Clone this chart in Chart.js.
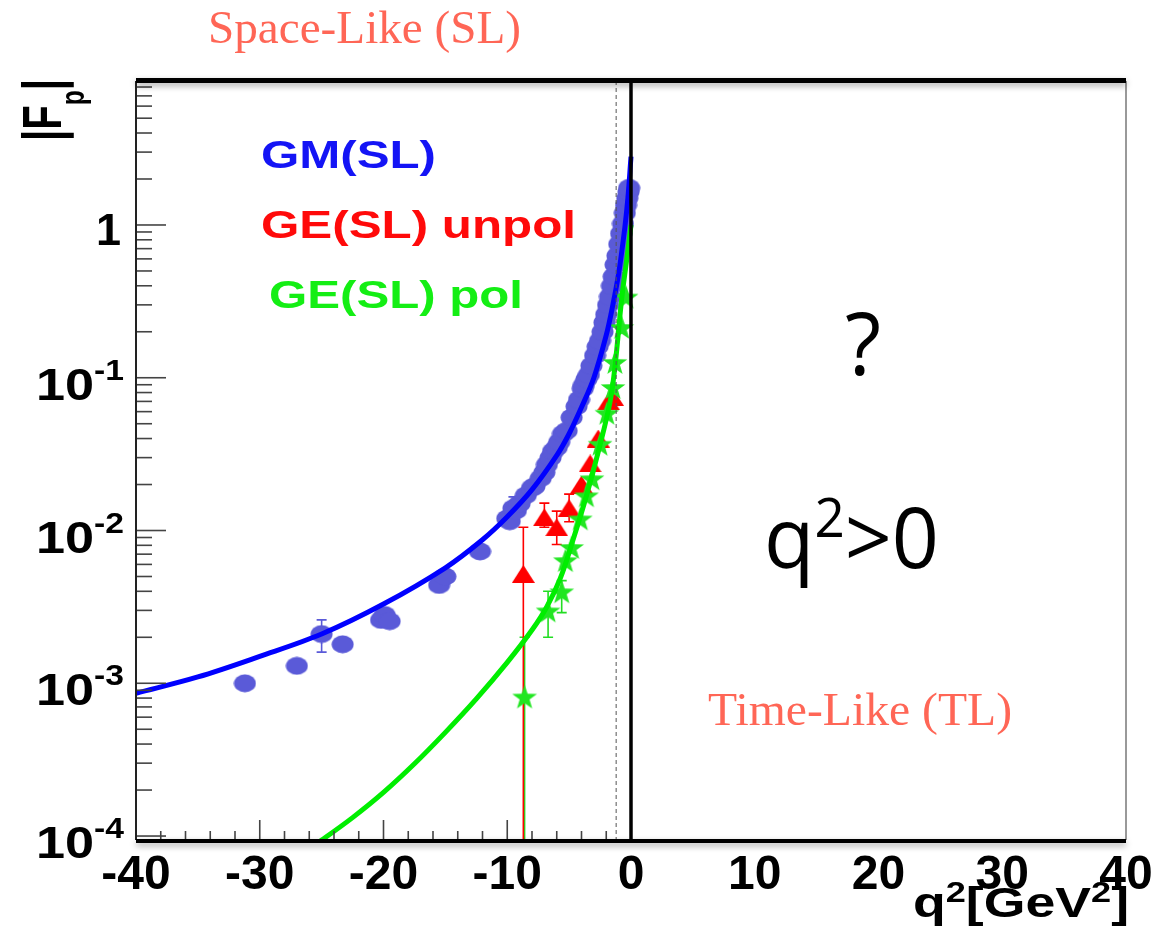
<!DOCTYPE html>
<html>
<head>
<meta charset="utf-8">
<title>|Fp| vs q2</title>
<script src="https://cdn.jsdelivr.net/npm/chart.js@4.4.1/dist/chart.umd.min.js"></script>
<style>
  html, body { margin: 0; padding: 0; background: #fff; }
  #wrap { width: 1159px; height: 933px; }
</style>
</head>
<body>
<div id="wrap"><canvas id="ffChart" width="1159" height="933"></canvas></div>
<script>
// --- values ---
// GM(SL) data (blue dots)
const gmX = [-31.2, -27.0, -25.0, -23.3, -20.2, -19.9, -19.5, -15.5, -15.0, -12.2,
             -10.0, -9.8, -9.5, -9.3, -9.0, -8.5, -8.0, -7.8, -7.3, -7.0, -6.8, -6.5, -6.3, -6.0, -5.8, -5.5, -5.2, -4.8, -4.4, -4.2, -3.9,
             -3.8, -3.6, -3.4, -3.2, -2.9, -2.7, -2.5, -2.3, -2.15, -2.0, -1.85, -1.7, -1.55, -1.4, -1.25, -1.1, -0.95, -0.8, -0.65, -0.5, -0.4, -0.3, -0.2, -0.15];
const gmY = [1.0e-3, 1.3e-3, 2.1e-3, 1.8e-3, 2.6e-3, 2.8e-3, 2.55e-3, 4.4e-3, 5.0e-3, 7.3e-3,
             1.2e-2, 1.15e-2, 1.4e-2, 1.35e-2, 1.5e-2, 1.7e-2, 1.9e-2, 1.95e-2, 2.2e-2, 2.4e-2, 2.7e-2, 3.0e-2, 3.3e-2, 3.5e-2, 3.8e-2, 4.3e-2, 4.5e-2, 5.5e-2, 6.5e-2, 7.2e-2, 8.5e-2,
             9.0e-2, 9.8e-2, 0.105, 0.12, 0.14, 0.16, 0.175, 0.2, 0.23, 0.26, 0.3, 0.34, 0.4, 0.46, 0.55, 0.63, 0.75, 0.88, 1.02, 1.2, 1.35, 1.5, 1.65, 1.75];
const gmErrLo = { 2: 1.6e-3, 12: 1.15e-2 };
const gmErrHi = { 2: 2.6e-3, 12: 1.66e-2 };

// GE(SL) unpol (red triangles)
const unpolX = [-8.7, -7.0, -6.0, -5.0, -4.0, -3.3, -2.65, -1.8, -1.5];
const unpolY = [5.2e-3, 1.22e-2, 1.05e-2, 1.4e-2, 2.0e-2, 2.75e-2, 4.0e-2, 7.0e-2, 7.5e-2];
const unpolErrLo = [1e-6, 1.05e-2, 8.1e-3, 1.14e-2, null, null, null, null, null];
const unpolErrHi = [1.05e-2, 1.51e-2, 1.34e-2, 1.73e-2, null, null, null, null, null];

// GE(SL) pol (green stars)
const polX = [-8.6, -6.7, -5.6, -5.3, -4.8, -4.1, -3.6, -3.15, -2.5, -1.95, -1.45, -1.3, -0.75, -0.4];
const polY = [8.2e-4, 3.0e-3, 4.0e-3, 6.4e-3, 7.8e-3, 1.2e-2, 1.7e-2, 2.2e-2, 3.7e-2, 5.9e-2, 8.7e-2, 0.127, 0.215, 0.34];
const polErrLo = [1e-6, 2.0e-3, 2.9e-3, null, null, null, null, null, null, null, null, null, null, null];
const polErrHi = [2.0e-3, 4.0e-3, 4.7e-3, null, null, null, null, null, null, null, null, null, null, null];

// fitted curves
const gmFitX = [-40, -35, -30, -25, -20, -15, -12, -10, -8, -6, -5, -4, -3, -2, -1.5, -1, -0.5, -0.25, 0];
const gmFitY = [8.6e-4, 1.1e-3, 1.5e-3, 2.1e-3, 3.3e-3, 5.7e-3, 8.7e-3, 1.23e-2, 1.85e-2, 3.1e-2, 4.3e-2, 6.4e-2, 0.10, 0.19, 0.29, 0.48, 0.96, 1.5, 2.8];
const polFitX = [-26, -25, -22.5, -20, -17.5, -15, -12.5, -10, -8, -6.8, -5.7, -4.7, -3.6, -2.5, -1.7, -1.3, -0.75, -0.35, 0];
const polFitY = [8.3e-5, 9.4e-5, 1.32e-4, 1.93e-4, 2.97e-4, 4.77e-4, 7.9e-4, 1.37e-3, 2.23e-3, 3.17e-3, 4.9e-3, 8.6e-3, 1.69e-2, 3.64e-2, 6.9e-2, 0.117, 0.33, 0.59, 1.0];

// axis ticks
const xTickVals = [-40, -30, -20, -10, 0, 10, 20, 30, 40];
const xTickLabels = ['-40', '-30', '-20', '-10', '0', '10', '20', '30', '40'];
const yTickVals = [1e-4, 1e-3, 1e-2, 1e-1, 1];
const yTickExp = ['-4', '-3', '-2', '-1', ''];

const pts = (xs, ys) => xs.map((x, i) => ({ x: x, y: ys[i] }));

// --- marker images ---
function makeMarker(w, h, draw) {
    const c = document.createElement('canvas');
    c.width = w; c.height = h;
    draw(c.getContext('2d'), w, h);
    return c;
}
const dotImg = makeMarker(23, 19, (g, w, h) => {
    g.fillStyle = '#5a5ad8';
    g.beginPath(); g.ellipse(w / 2, h / 2, w / 2 - 0.5, h / 2 - 0.5, 0, 0, Math.PI * 2); g.fill();
});
const triImg = makeMarker(23, 18, (g, w, h) => {
    g.fillStyle = '#ff0000';
    g.beginPath(); g.moveTo(w / 2, 0); g.lineTo(w, h); g.lineTo(0, h); g.closePath(); g.fill();
});
const starImg = makeMarker(28, 26, (g, w, h) => {
    g.fillStyle = '#22e622';
    g.beginPath();
    for (let i = 0; i < 10; i++) {
        const r = i % 2 === 0 ? 13 : 5.2;
        const a = -Math.PI / 2 + i * Math.PI / 5;
        const px = w / 2 + r * Math.cos(a), py = h / 2 + 1.5 + r * Math.sin(a);
        i === 0 ? g.moveTo(px, py) : g.lineTo(px, py);
    }
    g.closePath(); g.fill();
});

// --- text helper: segments drawn in a row, squeezed/stretched to a width ---
function drawRow(ctx, segs, x, y, width, color) {
    let total = 0;
    segs.forEach(s => { ctx.font = s.font; total += ctx.measureText(s.t).width; });
    const k = width ? width / total : 1;
    ctx.save();
    ctx.translate(x, y);
    ctx.scale(k, 1);
    ctx.fillStyle = color;
    ctx.textBaseline = 'alphabetic';
    ctx.textAlign = 'left';
    let cx = 0;
    segs.forEach(s => {
        ctx.font = s.font;
        ctx.fillText(s.t, cx, s.dy || 0);
        cx += ctx.measureText(s.t).width;
    });
    ctx.restore();
}

// --- error bars, drawn under the markers ---
const errorBars = {
    id: 'errorBars',
    beforeDatasetsDraw(chart) {
        const { ctx, chartArea: a, scales: { x, y } } = chart;
        ctx.save();
        ctx.beginPath();
        ctx.rect(a.left, a.top, a.right - a.left, a.bottom - a.top);
        ctx.clip();
        chart.data.datasets.forEach(ds => {
            if (!ds.errLo) return;
            ctx.strokeStyle = ds.errColor;
            ctx.lineWidth = 1.6;
            ds.data.forEach((p, i) => {
                const lo = ds.errLo[i], hi = ds.errHi[i];
                if (lo == null) return;
                const px = x.getPixelForValue(p.x);
                const y1 = y.getPixelForValue(lo), y2 = y.getPixelForValue(hi);
                ctx.beginPath();
                ctx.moveTo(px, y1); ctx.lineTo(px, y2);
                ctx.moveTo(px - 5, y2); ctx.lineTo(px + 5, y2);
                ctx.moveTo(px - 5, y1); ctx.lineTo(px + 5, y1);
                ctx.stroke();
            });
        });
        ctx.restore();
    }
};

// --- frame, ticks, labels and annotations ---
const decor = {
    id: 'decor',
    afterDatasetsDraw(chart) {
        const { ctx, chartArea: a, scales: { x, y } } = chart;
        ctx.save();

        // dashed line near q2 = -1.2 and the thick line at q2 = 0
        const xd = x.getPixelForValue(-1.2);
        ctx.strokeStyle = '#555';
        ctx.lineWidth = 1;
        ctx.setLineDash([4, 3]);
        ctx.beginPath(); ctx.moveTo(xd, a.top); ctx.lineTo(xd, a.bottom); ctx.stroke();
        ctx.setLineDash([]);
        const x0 = x.getPixelForValue(0);
        ctx.strokeStyle = '#000';
        ctx.lineWidth = 3.5;
        ctx.beginPath(); ctx.moveTo(x0, a.top); ctx.lineTo(x0, a.bottom); ctx.stroke();

        // y ticks (major + minor), drawn inward from the left axis
        ctx.strokeStyle = '#444';
        ctx.lineWidth = 1.6;
        for (let e = -4; e <= 0; e++) {
            for (let m = 1; m <= 9; m++) {
                const v = m * Math.pow(10, e);
                if (v > y.max) continue;
                const py = y.getPixelForValue(v);
                ctx.beginPath(); ctx.moveTo(a.left, py); ctx.lineTo(a.left + (m === 1 ? 30 : 16), py); ctx.stroke();
            }
        }
        // x ticks only on the space-like side
        for (let v = -38; v <= -2; v += 2) {
            const px = x.getPixelForValue(v);
            const len = v % 10 === 0 ? 20 : 9;
            ctx.beginPath(); ctx.moveTo(px, a.bottom); ctx.lineTo(px, a.bottom - len); ctx.stroke();
        }

        // frame
        ctx.strokeStyle = '#777';
        ctx.lineWidth = 1.5;
        ctx.beginPath(); ctx.moveTo(a.right, a.top); ctx.lineTo(a.right, a.bottom); ctx.stroke();
        ctx.strokeStyle = '#222';
        ctx.lineWidth = 2;
        ctx.beginPath(); ctx.moveTo(a.left, a.top); ctx.lineTo(a.left, a.bottom); ctx.stroke();
        ctx.shadowColor = 'rgba(0,0,0,0.35)';
        ctx.shadowBlur = 6;
        ctx.shadowOffsetY = 3;
        ctx.strokeStyle = '#000';
        ctx.lineWidth = 5;
        ctx.beginPath(); ctx.moveTo(a.left, a.top - 0.5); ctx.lineTo(a.right, a.top - 0.5); ctx.stroke();
        ctx.lineWidth = 4;
        ctx.beginPath(); ctx.moveTo(a.left, a.bottom + 1); ctx.lineTo(a.right, a.bottom + 1); ctx.stroke();
        ctx.restore();

        // y tick labels
        const big = 'bold 45px "Liberation Sans"', sup = 'bold 29px "Liberation Sans"';
        yTickVals.forEach((v, i) => {
            const py = y.getPixelForValue(v);
            if (yTickExp[i] === '') {
                ctx.font = big; ctx.fillStyle = '#000'; ctx.textAlign = 'right';
                ctx.fillText('1', 121, py + 20);
            } else {
                drawRow(ctx, [{ t: '10', font: big }, { t: yTickExp[i], font: sup, dy: -20 }], 36, py + 22, 88, '#000');
            }
        });

        // x tick labels
        ctx.font = 'bold 48px "Liberation Sans"';
        ctx.fillStyle = '#000';
        ctx.textAlign = 'center';
        xTickVals.forEach((v, i) => ctx.fillText(xTickLabels[i], x.getPixelForValue(v), 889));

        // axis titles
        const tf = 'bold 43px "Liberation Sans"', ts = 'bold 29px "Liberation Sans"';
        drawRow(ctx, [{ t: 'q', font: tf }, { t: '2', font: ts, dy: -15 }, { t: '[GeV', font: tf }, { t: '2', font: ts, dy: -15 }, { t: ']', font: tf }], 913, 917, 216, '#000');
        ctx.save();
        ctx.translate(61, 141);
        ctx.rotate(-Math.PI / 2);
        drawRow(ctx, [{ t: '|F', font: 'bold 55px "Liberation Sans"' }, { t: 'p', font: 'bold 34px "Liberation Sans"', dy: 23 }, { t: '|', font: 'bold 55px "Liberation Sans"' }], 0, 0, 62, '#000');
        ctx.restore();

        // legend
        const lf = 'bold 39px "Liberation Sans"';
        drawRow(ctx, [{ t: 'GM(SL)', font: lf }], 261, 168, 175, '#1414f5');
        drawRow(ctx, [{ t: 'GE(SL) unpol', font: lf }], 261, 238, 315, '#ff0a0a');
        drawRow(ctx, [{ t: 'GE(SL) pol', font: lf }], 269, 308, 254, '#14ee14');

        // region annotations
        const serif = '47px "Liberation Serif"';
        drawRow(ctx, [{ t: 'Space-Like (SL)', font: serif }], 208, 43, 313, '#ff6656');
        drawRow(ctx, [{ t: 'Time-Like (TL)', font: serif }], 708, 725, 304, '#ff6656');
        drawRow(ctx, [{ t: '?', font: '86px "Open Sans"' }], 845, 375, 36, '#000');
        drawRow(ctx, [{ t: 'q', font: '84px "Open Sans"' }, { t: '2', font: '54px "Open Sans"', dy: -31 }, { t: '>0', font: '84px "Open Sans"' }], 764, 568, 175, '#000');
    }
};

const ctx = document.getElementById('ffChart');
new Chart(ctx, {
    type: 'scatter',
    data: {
        datasets: [
            {
                label: 'GE(SL) pol fit',
                data: pts(polFitX, polFitY),
                showLine: true,
                borderColor: '#00ee00',
                borderWidth: 5,
                pointRadius: 0,
                tension: 0.35,
                order: 1
            },
            {
                label: 'GM(SL) fit',
                data: pts(gmFitX, gmFitY),
                showLine: true,
                borderColor: '#0000ff',
                borderWidth: 5,
                pointRadius: 0,
                tension: 0.35,
                order: 2
            },
            {
                label: 'GE(SL) pol',
                data: pts(polX, polY),
                pointStyle: starImg,
                pointRadius: 12,
                errLo: polErrLo, errHi: polErrHi, errColor: '#22dd22',
                order: 3
            },
            {
                label: 'GE(SL) unpol',
                data: pts(unpolX, unpolY),
                pointStyle: triImg,
                pointRadius: 11,
                errLo: unpolErrLo, errHi: unpolErrHi, errColor: '#ff0000',
                order: 4
            },
            {
                label: 'GM(SL)',
                data: pts(gmX, gmY),
                pointStyle: dotImg,
                pointRadius: 11,
                errLo: gmX.map((_, i) => gmErrLo[i] ?? null),
                errHi: gmX.map((_, i) => gmErrHi[i] ?? null),
                errColor: '#5a5ad8',
                order: 5
            }
        ]
    },
    options: {
        responsive: false,
        animation: false,
        layout: { padding: { left: 136, right: 33, top: 81, bottom: 93 } },
        plugins: { legend: { display: false }, tooltip: { enabled: false } },
        scales: {
            x: { type: 'linear', min: -40, max: 40, display: false },
            y: { type: 'logarithmic', min: 0.942e-4, max: 8.76, display: false }
        }
    },
    plugins: [errorBars, decor]
});
</script>
</body>
</html>
